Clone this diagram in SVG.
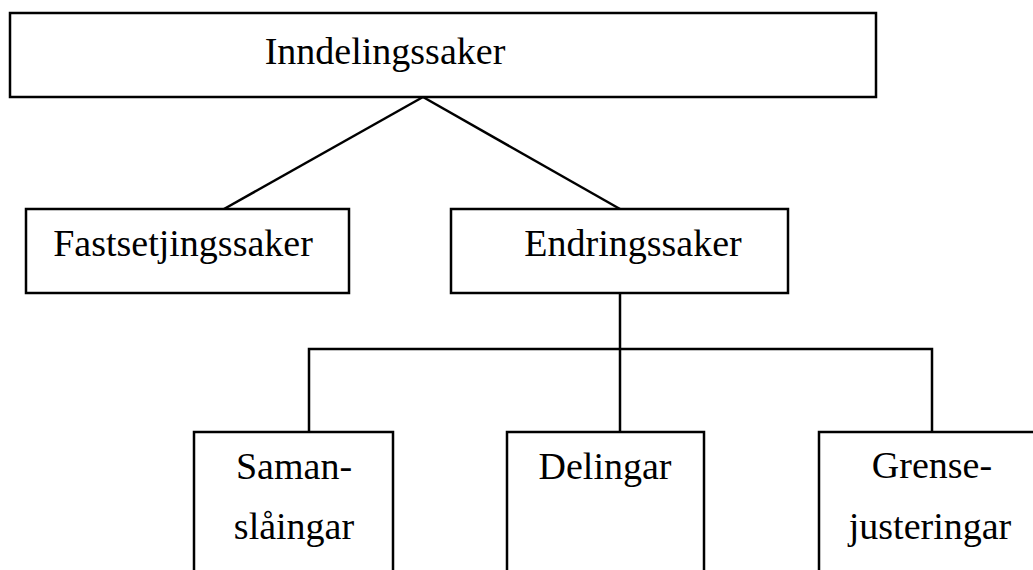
<svg xmlns="http://www.w3.org/2000/svg" width="1033" height="570" viewBox="0 0 1033 570">
<style>
.box{fill:#fff;stroke:#000;stroke-width:2.5}
.lbl{font-family:"Liberation Serif","Times New Roman",serif;font-size:38px;fill:#000;text-anchor:middle}
.con{fill:none;stroke:#000;stroke-width:2.5}
</style>
<rect width="1033" height="570" fill="#fff"/>
<g id="connectors">
<line class="con" x1="423" y1="97" x2="224" y2="209"/>
<line class="con" x1="423" y1="97" x2="620" y2="209"/>
<line class="con" x1="620" y1="293" x2="620" y2="432"/>
<polyline class="con" points="309,432 309,349 932,349 932,432"/>
</g>
<g id="inndelingssaker">
<rect class="box" x="10" y="13" width="866" height="84"/>
<text class="lbl" x="385" y="64">Inndelingssaker</text>
</g>
<g id="fastsetjingssaker">
<rect class="box" x="26" y="209" width="323" height="84"/>
<text class="lbl" x="183" y="256">Fastsetjingssaker</text>
</g>
<g id="endringssaker">
<rect class="box" x="451" y="209" width="337" height="84"/>
<text class="lbl" x="633" y="256">Endringssaker</text>
</g>
<g id="samanslaaingar">
<rect class="box" x="194" y="432" width="199" height="160"/>
<text class="lbl" x="294" y="479">Saman-</text>
<text class="lbl" x="294" y="539">slåingar</text>
</g>
<g id="delingar">
<rect class="box" x="507" y="432" width="197" height="160"/>
<text class="lbl" x="605" y="479">Delingar</text>
</g>
<g id="grensejusteringar">
<rect class="box" x="819" y="432" width="230" height="160"/>
<text class="lbl" x="932" y="478">Grense-</text>
<text class="lbl" x="930" y="539">justeringar</text>
</g>
</svg>
